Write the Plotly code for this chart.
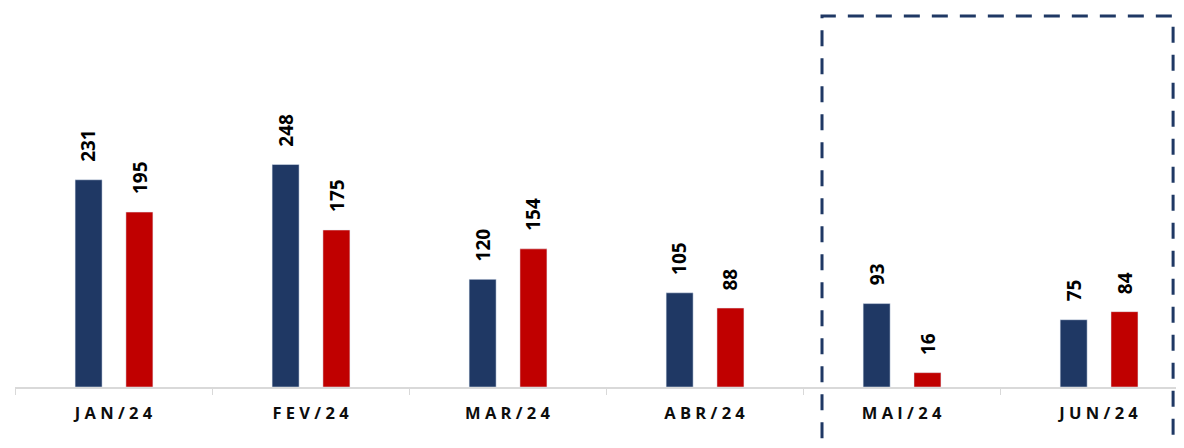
import plotly.graph_objects as go

months = ["JAN/24", "FEV/24", "MAR/24", "ABR/24", "MAI/24", "JUN/24"]
serie_a = [231, 248, 120, 105, 93, 75]
serie_b = [195, 175, 154, 88, 16, 84]

navy = "#1F3864"
red = "#C00000"

spaced = [" ".join(list(m)) for m in months]

BAR_W = 0.137
OFF_A = -0.195
OFF_B = 0.063
CAT_PX = 197.0

fig = go.Figure()
fig.add_trace(go.Bar(
    x=spaced, y=serie_a, marker_color=navy, width=BAR_W, offset=OFF_A,
    showlegend=False, hoverinfo="x+y",
))
fig.add_trace(go.Bar(
    x=spaced, y=serie_b, marker_color=red, width=BAR_W, offset=OFF_B,
    showlegend=False, hoverinfo="x+y",
))

lab_font = dict(family="Open Sans", size=19, color="#000000", weight="bold")
for series, off in ((serie_a, OFF_A), (serie_b, OFF_B)):
    shift = (off + BAR_W / 2) * CAT_PX
    for cat, v in zip(spaced, series):
        fig.add_annotation(
            x=cat, y=v, text=str(v), textangle=-90, showarrow=False,
            xanchor="center", yanchor="bottom", xshift=shift, yshift=16,
            font=lab_font,
        )

fig.add_shape(type="rect", xref="paper", yref="paper",
              x0=0.6951, x1=0.9975, y0=-0.16, y1=0.9789,
              line=dict(color=navy, width=3, dash="16px,12px"),
              fillcolor="rgba(0,0,0,0)")

fig.update_layout(
    width=1168, height=432,
    margin=dict(l=7, r=0, t=0, b=53, autoexpand=False),
    paper_bgcolor="white", plot_bgcolor="white",
    barmode="group",
    xaxis=dict(
        range=[-0.5, 5.393], tickson="boundaries", ticks="outside", ticklen=6,
        tickcolor="#D9D9D9", showline=True, linecolor="#D9D9D9", linewidth=1.5,
        tickfont=dict(family="Open Sans", size=16.5, color="#0D0D0D", weight="bold"),
        ticklabelstandoff=10, showgrid=False, fixedrange=True, automargin=False,
    ),
    yaxis=dict(range=[0, 422.5], visible=False, showgrid=False, fixedrange=True,
               automargin=False),
)

fig.write_html("out.html")
